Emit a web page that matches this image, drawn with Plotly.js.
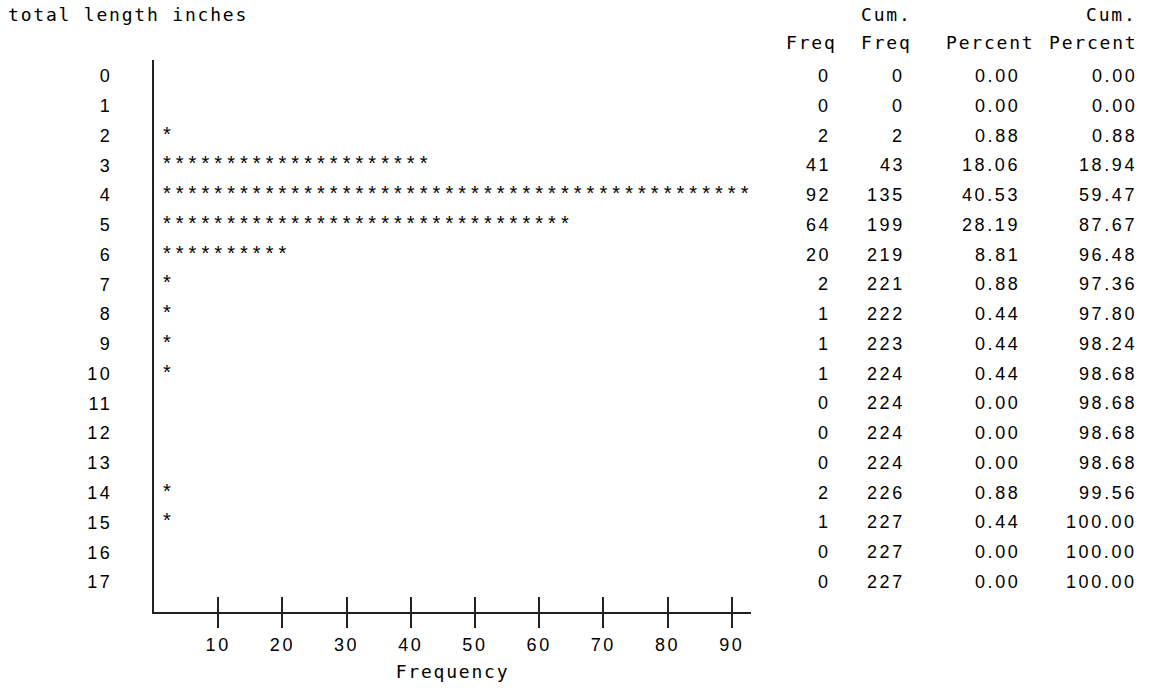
<!DOCTYPE html>
<html>
<head>
<meta charset="utf-8">
<script src="https://cdn.plot.ly/plotly-3.0.1.min.js"></script>
<style>
  html, body { margin: 0; padding: 0; background: #ffffff; }
  #chart { width: 1152px; height: 688px; }
  text[style*="DejaVu Sans Mono"] { letter-spacing: 1.8px; }
  text[style*="Liberation Sans"] { letter-spacing: 2.6px; }
</style>
</head>
<body>
<div id="chart"></div>
<script>
// ---- data ----
const rowLabels = ['0','1','2','3','4','5','6','7','8','9','10','11','12','13','14','15','16','17'];
const freq = [0, 0, 2, 41, 92, 64, 20, 2, 1, 1, 1, 0, 0, 0, 2, 1, 0, 0];
const cumFreq = [0, 0, 2, 43, 135, 199, 219, 221, 222, 223, 224, 224, 224, 224, 226, 227, 227, 227];
const percent = [0.00, 0.00, 0.88, 18.06, 40.53, 28.19, 8.81, 0.88, 0.44, 0.44, 0.44, 0.00, 0.00, 0.00, 0.88, 0.44, 0.00, 0.00];
const cumPercent = [0.00, 0.00, 0.88, 18.94, 59.47, 87.67, 96.48, 97.36, 97.80, 98.24, 98.68, 98.68, 98.68, 98.68, 99.56, 100.00, 100.00, 100.00];
const xTickVals = [10, 20, 30, 40, 50, 60, 70, 80, 90];
const headerTop = ['', 'Cum.', '', 'Cum.'];
const headerBottom = ['Freq', 'Freq', 'Percent', 'Percent'];
const unitsPerStar = 2;

// ---- styling constants ----
const MONO = 'DejaVu Sans Mono';
const SANS = 'Liberation Sans';
const FS = 18;
const W = 1152, H = 688;
const mL = 154, mR = 401, mT = 60, mB = 76;
const plotW = W - mL - mR;
const plotH = H - mT - mB;
const px2paperX = px => (px - mL) / plotW;
const px2paperY = py => (H - mB - py) / plotH;

// ---- asterisk bars (one '*' per 2 units of frequency) ----
const starX = [], starY = [];
rowLabels.forEach((lab, i) => {
  const n = Math.round(freq[i] / unitsPerStar);
  for (let k = 1; k <= n; k++) { starX.push(k * unitsPerStar); starY.push(i); }
});

const traces = [
  {
    type: 'scatter', mode: 'text', x: starX, y: starY,
    text: starX.map(() => '*'), textposition: 'middle center',
    textfont: { family: 'Arial', size: 20, color: '#000' },
    hoverinfo: 'skip', cliponaxis: false, showlegend: false
  },
  { type: 'scatter', x: [], y: [], xaxis: 'x2', yaxis: 'y', showlegend: false, hoverinfo: 'skip' }
];

// ---- table on the right ----
const colRight = [833, 907, 1022, 1139];
const hdrRight = [839, 914, 1036, 1139];
const cols = [
  freq.map(String),
  cumFreq.map(String),
  percent.map(v => v.toFixed(2)),
  cumPercent.map(v => v.toFixed(2))
];
const annotations = [];
cols.forEach((col, c) => {
  col.forEach((txt, i) => {
    annotations.push({
      text: txt, xref: 'paper', x: px2paperX(colRight[c]), xanchor: 'right',
      yref: 'y', y: i, yanchor: 'middle', showarrow: false,
      font: { family: SANS, size: FS, color: '#000' }
    });
  });
});
headerBottom.forEach((h, c) => {
  annotations.push({
    text: h, xref: 'paper', x: px2paperX(hdrRight[c]), xanchor: 'right',
    yref: 'paper', y: px2paperY(43), yanchor: 'middle', showarrow: false,
    font: { family: MONO, size: FS, color: '#000' }
  });
  if (headerTop[c]) {
    annotations.push({
      text: headerTop[c], xref: 'paper', x: px2paperX(hdrRight[c]), xanchor: 'right',
      yref: 'paper', y: px2paperY(14), yanchor: 'middle', showarrow: false,
      font: { family: MONO, size: FS, color: '#000' }
    });
  }
});

const rowPitch = (582 - 76) / 17;
const yTop = -(76 - mT) / rowPitch;
const yBot = 17 + (H - mB - 582) / rowPitch;
const xMax = 93;

const layout = {
  width: W, height: H,
  margin: { l: mL, r: mR, t: mT, b: mB, pad: 0 },
  paper_bgcolor: '#fff', plot_bgcolor: '#fff',
  showlegend: false,
  title: {
    text: 'total length inches',
    font: { family: MONO, size: FS, color: '#000' },
    xref: 'container', x: 8 / W, xanchor: 'left',
    yref: 'container', y: 1 - 15 / H, yanchor: 'middle'
  },
  xaxis: {
    range: [0, xMax], tickvals: xTickVals, ticktext: xTickVals.map(String),
    ticks: 'outside', ticklen: 14, tickwidth: 2, tickcolor: '#222',
    showline: true, linecolor: '#222', linewidth: 2,
    showgrid: false, zeroline: false,
    tickfont: { family: SANS, size: FS, color: '#000' },
    ticklabelstandoff: 1,
    title: { text: 'Frequency', font: { family: MONO, size: FS, color: '#000' }, standoff: 12 },
    fixedrange: true
  },
  xaxis2: {
    overlaying: 'x', anchor: 'y', side: 'bottom',
    range: [0, xMax], tickvals: xTickVals,
    ticks: 'inside', ticklen: 15, tickwidth: 2, tickcolor: '#222',
    showticklabels: false, showline: false, showgrid: false, zeroline: false,
    fixedrange: true
  },
  yaxis: {
    range: [yBot, yTop], tickvals: rowLabels.map((_, i) => i), ticktext: rowLabels,
    ticks: '', showline: true, linecolor: '#222', linewidth: 2,
    showgrid: false, zeroline: false,
    tickfont: { family: SANS, size: FS, color: '#000' },
    ticklabelstandoff: 36,
    fixedrange: true
  },
  annotations: annotations
};

Plotly.newPlot('chart', traces, layout, { displayModeBar: false, staticPlot: true });
</script>
</body>
</html>
